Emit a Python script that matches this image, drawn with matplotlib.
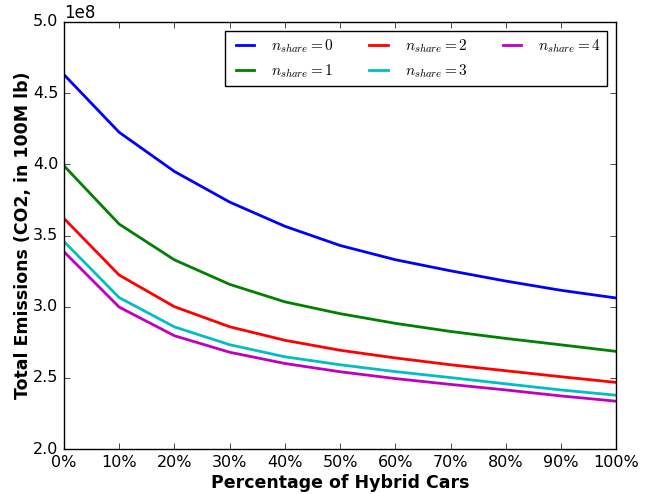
import matplotlib
matplotlib.use("Agg")
import matplotlib.pyplot as plt
import numpy as np
from matplotlib.ticker import FuncFormatter

plt.style.use("classic")

hybrid_pct = [0, 10, 20, 30, 40, 50, 60, 70, 80, 90, 100]
share_labels = [0, 1, 2, 3, 4]
colors = ["b", "g", "r", "c", "m"]

# total emissions per n_share, in lb
emis_share0 = [4.63e8, 4.225e8, 3.95e8, 3.735e8, 3.565e8, 3.43e8, 3.33e8, 3.252e8, 3.18e8, 3.115e8, 3.061e8]
emis_share1 = [3.99e8, 3.58e8, 3.329e8, 3.157e8, 3.034e8, 2.951e8, 2.883e8, 2.826e8, 2.777e8, 2.732e8, 2.686e8]
emis_share2 = [3.62e8, 3.222e8, 3.0e8, 2.859e8, 2.764e8, 2.694e8, 2.64e8, 2.592e8, 2.55e8, 2.508e8, 2.468e8]
emis_share3 = [3.458e8, 3.064e8, 2.858e8, 2.733e8, 2.648e8, 2.592e8, 2.544e8, 2.502e8, 2.458e8, 2.415e8, 2.378e8]
emis_share4 = [3.386e8, 2.997e8, 2.796e8, 2.68e8, 2.601e8, 2.543e8, 2.495e8, 2.454e8, 2.415e8, 2.373e8, 2.336e8]
all_emis = [emis_share0, emis_share1, emis_share2, emis_share3, emis_share4]

fig = plt.figure(figsize=(6.46, 4.94), dpi=100, facecolor="white")
ax = fig.add_axes([0.099, 0.091, 0.855, 0.8645])

for n, vals, c in zip(share_labels, all_emis, colors):
    ax.plot(hybrid_pct, vals, color=c, linewidth=2, label=r"$n_{share}=%d$" % n)

ax.set_xlim(0, 100)
ax.set_ylim(2.0e8, 5.0e8)
ax.set_xticks(hybrid_pct)
ax.xaxis.set_major_formatter(FuncFormatter(lambda v, p: "%d%%" % v))
ax.tick_params(labelsize=11.5)
ax.set_xlabel("Percentage of Hybrid Cars", fontsize=12.5, fontweight="bold", labelpad=3)
ax.set_ylabel("Total Emissions (CO2, in 100M lb)", fontsize=12.5, fontweight="bold", labelpad=1)
ax.legend(loc="upper right", ncol=3, fontsize=11, handlelength=1.8,
          borderaxespad=0.6, frameon=True)

fig.savefig("out.png", dpi=100, facecolor="white")
